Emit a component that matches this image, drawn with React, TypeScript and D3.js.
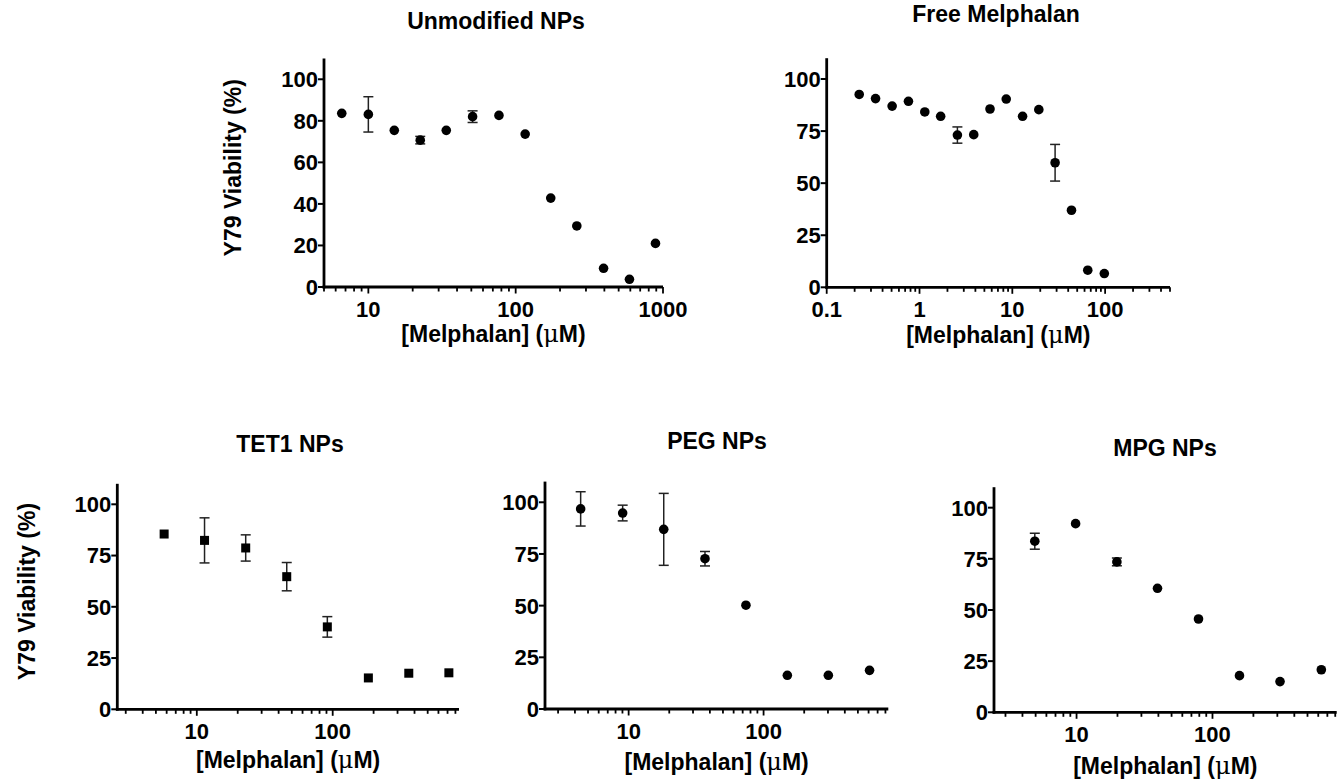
import React from 'react';
import * as d3 from 'd3';

// values
const unmodX = [6.6, 10, 15, 22.5, 33.8, 51, 77, 116, 173, 260, 395, 592, 889];
const unmodY = [83.6, 83.1, 75.4, 70.7, 75.4, 82.0, 82.6, 73.6, 42.8, 29.4, 9.0, 3.7, 21.0];
const unmodErr = [0, 8.5, 0, 1.8, 0, 2.8, 0, 0, 0, 0, 0, 0, 0];

const freeX = [0.224, 0.336, 0.507, 0.76, 1.14, 1.69, 2.56, 3.84, 5.75, 8.6, 12.9, 19.3, 28.9, 43.4, 65, 98];
const freeY = [92.6, 90.6, 87.0, 89.3, 84.2, 82.1, 73.1, 73.3, 85.6, 90.4, 82.1, 85.3, 59.8, 37.0, 8.2, 6.6];
const freeErr = [0, 0, 0, 0, 0, 0, 3.9, 0, 0, 0, 0, 0, 8.8, 0, 0, 0];

const tetX = [5.75, 11.4, 22.9, 45.9, 91.3, 183, 363, 716];
const tetY = [85.5, 82.4, 78.7, 64.7, 40.2, 15.3, 17.6, 17.8];
const tetErr = [0, 11, 6.4, 6.9, 5.0, 0, 0, 0];

const pegX = [4.41, 9.03, 18.2, 36.8, 74, 150, 302, 610];
const pegY = [96.8, 94.8, 86.9, 72.7, 50.2, 16.3, 16.3, 18.7];
const pegErr = [8.3, 3.8, 17.4, 3.5, 0, 0, 0, 0];

const mpgX = [4.93, 9.84, 19.8, 39.4, 78.9, 158, 314, 632];
const mpgY = [83.6, 92.2, 73.5, 60.6, 45.6, 17.9, 15.0, 20.8];
const mpgErr = [3.9, 0, 1.9, 0, 0, 0, 0, 0];

const ticks20 = [0, 20, 40, 60, 80, 100];
const ticks25 = [0, 25, 50, 75, 100];

const yLabel = 'Y79 Viability (%)';
const font = 'Liberation Sans, Arial, sans-serif';

const panels = [
  { title: 'Unmodified NPs', xs: unmodX, ys: unmodY, err: unmodErr, yTicks: ticks20, xDomain: [5, 1000],
    left: 324, right: 663, bottom: 287, top: 58.5, titleY: 29, titleX: 496, shape: 'circle', yLab: 233, xTitleOff: 55 },
  { title: 'Free Melphalan', xs: freeX, ys: freeY, err: freeErr, yTicks: ticks25, xDomain: [0.1, 500],
    left: 826.7, right: 1170, bottom: 287.3, top: 58.2, titleY: 22, titleX: 996, shape: 'circle', xTitleOff: 56 },
  { title: 'TET1 NPs', xs: tetX, ys: tetY, err: tetErr, yTicks: ticks25, xDomain: [2.6, 850],
    left: 117.3, right: 459, bottom: 709.3, top: 483.8, titleY: 452, titleX: 290, shape: 'square', yLab: 27, xTitleOff: 59 },
  { title: 'PEG NPs', xs: pegX, ys: pegY, err: pegErr, yTicks: ticks25, xDomain: [2.4, 840],
    left: 545, right: 888.3, bottom: 709, top: 481.6, titleY: 449, titleX: 717, shape: 'circle', xTitleOff: 61 },
  { title: 'MPG NPs', xs: mpgX, ys: mpgY, err: mpgErr, yTicks: ticks25, xDomain: [2.47, 820],
    left: 994, right: 1336.7, bottom: 712.3, top: 487.2, titleY: 456, titleX: 1165, shape: 'circle', xTitleOff: 62 },
];

const logTicks = (lo, hi) => {
  const out = [];
  for (let e = Math.floor(Math.log10(lo)); e <= Math.ceil(Math.log10(hi)); e++) {
    for (let m = 1; m <= 9; m++) {
      const v = m * Math.pow(10, e);
      if (v >= lo * 0.999 && v <= hi * 1.001) out.push({ v, major: m === 1 });
    }
  }
  return out;
};

const Panel = ({ p }) => {
  const x = d3.scaleLog().domain(p.xDomain).range([p.left, p.right]);
  const y = d3.scaleLinear().domain([0, 110]).range([p.bottom, p.top]);
  const xt = logTicks(p.xDomain[0], p.xDomain[1]);
  const midX = (p.left + p.right) / 2;
  const cap = 5;

  return (
    <g>
      <text x={p.titleX} y={p.titleY} textAnchor="middle" fontSize={23} fontWeight="bold" fontFamily={font}>{p.title}</text>

      {/* error bars */}
      {p.xs.map((xv, i) => p.err[i] > 0 && (
        <g key={'e' + i} stroke="#222" strokeWidth={1.5}>
          <line x1={x(xv)} x2={x(xv)} y1={y(p.ys[i] - p.err[i])} y2={y(p.ys[i] + p.err[i])} />
          <line x1={x(xv) - cap} x2={x(xv) + cap} y1={y(p.ys[i] + p.err[i])} y2={y(p.ys[i] + p.err[i])} />
          <line x1={x(xv) - cap} x2={x(xv) + cap} y1={y(p.ys[i] - p.err[i])} y2={y(p.ys[i] - p.err[i])} />
        </g>
      ))}

      {/* markers */}
      {p.xs.map((xv, i) => p.shape === 'square'
        ? <rect key={'m' + i} x={x(xv) - 4.5} y={y(p.ys[i]) - 4.5} width={9} height={9} fill="#000" />
        : <circle key={'m' + i} cx={x(xv)} cy={y(p.ys[i])} r={4.8} fill="#000" />)}

      {/* y axis */}
      <line x1={p.left} x2={p.left} y1={p.top} y2={p.bottom + 1.4} stroke="#000" strokeWidth={2.8} />
      {p.yTicks.map(t => (
        <g key={'y' + t}>
          <line x1={p.left - 6} x2={p.left} y1={y(t)} y2={y(t)} stroke="#000" strokeWidth={2} />
          <text x={p.left - 6} y={y(t)} dy="0.36em" textAnchor="end" fontSize={22} fontWeight="bold" fontFamily={font}>{t}</text>
        </g>
      ))}

      {/* x axis */}
      <line x1={p.left - 1.4} x2={p.right} y1={p.bottom} y2={p.bottom} stroke="#000" strokeWidth={2.8} />
      {xt.map(t => (
        <g key={'x' + t.v}>
          <line x1={x(t.v)} x2={x(t.v)} y1={p.bottom} y2={p.bottom + (t.major ? 6.5 : 4.5)} stroke="#000" strokeWidth={1.8} />
          {t.major && (
            <text x={x(t.v)} y={p.bottom + 30} textAnchor="middle" fontSize={22} fontWeight="bold" fontFamily={font}>{+t.v.toPrecision(1)}</text>
          )}
        </g>
      ))}

      <text x={midX} y={p.bottom + p.xTitleOff} textAnchor="middle" fontSize={23} fontWeight="bold" fontFamily={font}>
        [Melphalan] (<tspan fontFamily="DejaVu Serif, serif" fontWeight="normal" fontSize={24}>μ</tspan>M)
      </text>

      {p.yLab !== undefined && (
        <text transform={`translate(${p.yLab},${(p.top + p.bottom) / 2 - 5}) rotate(-90)`} textAnchor="middle" dy="0.36em"
          fontSize={23} fontWeight="bold" fontFamily={font}>{yLabel}</text>
      )}
    </g>
  );
};

export default function App() {
  return (
    <svg width={1338} height={779} style={{ position: 'absolute', left: 0, top: 0, background: '#fff' }}>
      <rect width={1338} height={779} fill="#fff" />
      {panels.map(p => <Panel key={p.title} p={p} />)}
    </svg>
  );
}
